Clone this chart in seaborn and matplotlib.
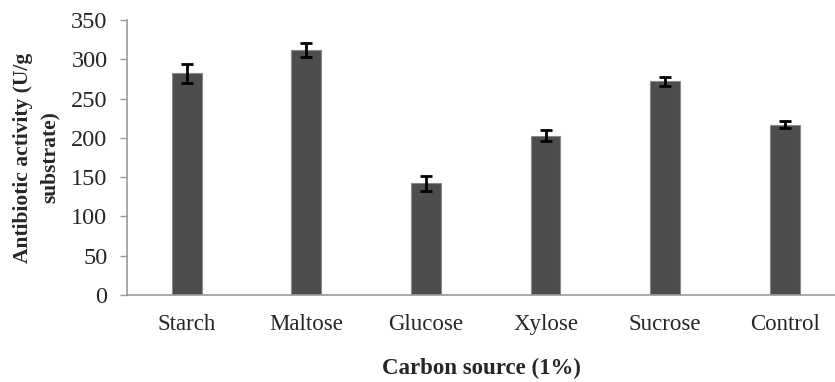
import matplotlib
matplotlib.use("Agg")
import matplotlib.pyplot as plt
import seaborn as sns
import pandas as pd

categories = ["Starch", "Maltose", "Glucose", "Xylose", "Sucrose", "Control"]
activity = [282, 312, 142, 203, 272, 217]
errors = [12, 9, 9, 7.5, 5.5, 4.7]
y_ticks = [0, 50, 100, 150, 200, 250, 300, 350]

df = pd.DataFrame({"source": categories, "activity": activity})

sns.set_style("white")
plt.rcParams["font.family"] = ["Liberation Serif", "DejaVu Serif"]

fig = plt.figure(figsize=(8.35, 3.82), dpi=100)
ax = fig.add_axes([0.152, 0.2277, 0.848, 0.7199])

sns.barplot(data=df, x="source", y="activity", color="#4d4d4d", width=0.25,
            errorbar=None, edgecolor="#8a8a8a", linewidth=0.8, saturation=1, ax=ax)
ax.errorbar(categories, activity, yerr=errors, fmt="none", ecolor="black",
            elinewidth=2, capsize=4.5, capthick=2, zorder=5)

ax.set_ylim(0, 350)
ax.set_xlim(-0.5, 5.42)
ax.set_yticks(y_ticks)
ax.tick_params(axis="y", which="both", direction="out", length=5, width=1,
               color="#9a9a9a", labelsize=17.5, pad=9, left=True)
ax.tick_params(axis="x", length=0, labelsize=16.5, pad=14)

for s in ["top", "right"]:
    ax.spines[s].set_visible(False)
for s in ["left", "bottom"]:
    ax.spines[s].set_color("#9a9a9a")
    ax.spines[s].set_linewidth(1.2)

ax.set_xlabel("Carbon source (1%)", fontsize=16.5, fontweight="bold", labelpad=16)
ax.set_ylabel("Antibiotic activity (U/g\nsubstrate)", fontsize=15.5, fontweight="bold",
              labelpad=8, linespacing=1.45)

fig.savefig("out.png", dpi=100)
